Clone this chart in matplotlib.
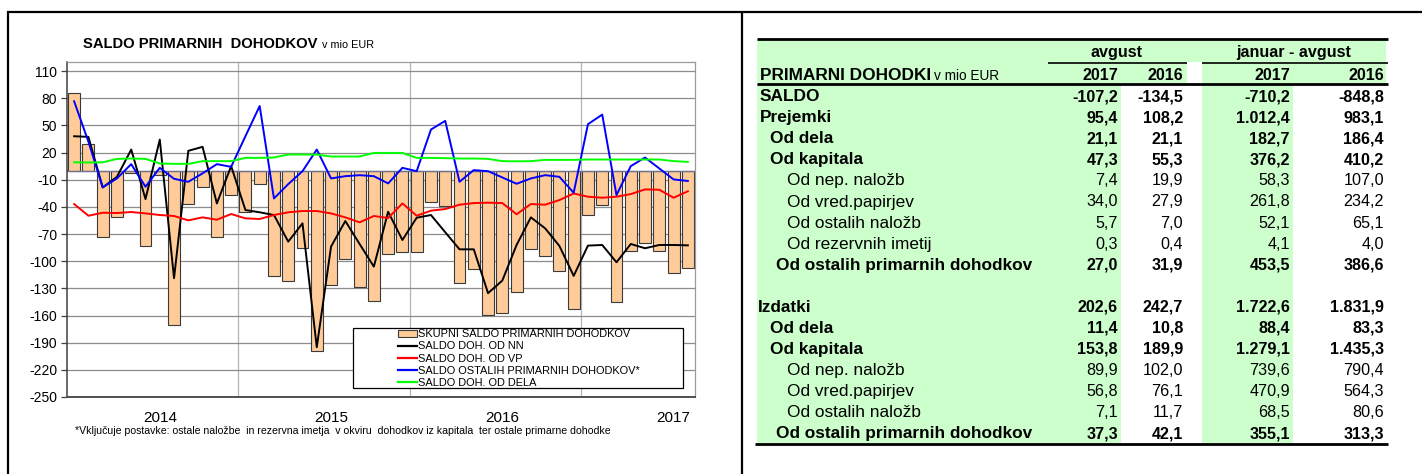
import numpy as np
import matplotlib
matplotlib.use("Agg")
import matplotlib.pyplot as plt
from matplotlib.lines import Line2D
from matplotlib.patches import Rectangle, Patch

plt.rcParams['font.family'] = ['Liberation Sans', 'DejaVu Sans']

# ---------------- data ----------------
months = list(range(44))  # Jan 2014 .. Aug 2017
total = [85.7, 29.2, -73.3, -51.2, -3.0, -82.8, -5.0, -170.0, -37.3, -18.5, -73.3, -27.0,
         -45.4, -14.5, -116.2, -122.4, -85.0, -198.8, -126.5, -97.9, -129.0, -143.8, -91.6, -90.2,
         -89.4, -35.0, -39.5, -123.7, -108.9, -159.6, -157.4, -134.5, -86.9, -94.6, -110.4, -153.0,
         -48.7, -38.4, -145.3, -89.1, -79.5, -88.3, -113.0, -107.2]
saldo_nn = [38.0, 37.3, -18.5, -6.8, 23.3, -31.4, 34.3, -118.8, 21.9, 26.3, -36.2, 5.0,
            -43.5, -46.0, -49.0, -78.4, -58.2, -195.0, -83.9, -55.6, -81.0, -106.0, -45.4, -76.6,
            -52.0, -49.0, -68.0, -86.9, -86.9, -135.3, -121.4, -82.1, -51.6, -63.7, -83.2, -116.2,
            -82.8, -82.1, -101.2, -81.0, -85.7, -82.1, -82.1, -82.5]
saldo_vp = [-36.9, -49.8, -46.5, -46.8, -45.7, -47.2, -49.0, -50.1, -54.9, -51.6, -54.2, -47.9,
            -52.7, -53.4, -49.0, -46.0, -44.6, -44.6, -47.2, -51.6, -57.1, -50.1, -52.3, -36.2,
            -49.8, -44.2, -42.4, -37.6, -35.8, -35.4, -35.8, -48.2, -36.9, -37.6, -32.5, -25.2,
            -28.8, -29.9, -28.8, -25.9, -20.7, -21.1, -29.9, -22.8]
saldo_ostali = [76.6, 32.0, -18.5, -8.6, 7.2, -17.8, 3.1, -9.0, -12.3, -3.0, 7.2, 4.2,
                38.0, 71.4, -30.7, -14.9, -0.6, 23.3, -8.6, -6.1, -5.0, -6.1, -14.1, 3.1,
                -0.6, 45.4, 55.0, -12.3, 0.6, -0.6, -7.5, -14.5, -8.6, -5.0, -6.8, -24.4,
                51.3, 61.9, -27.0, 5.0, 14.5, 2.4, -9.7, -11.4]
saldo_dela = [9.2, 9.0, 9.2, 13.0, 13.4, 13.0, 7.9, 7.5, 7.5, 10.5, 10.5, 10.5,
              14.1, 14.1, 14.5, 17.8, 17.8, 17.8, 15.6, 15.6, 15.6, 19.6, 19.6, 19.6,
              14.1, 14.1, 13.8, 13.4, 13.4, 13.0, 10.5, 10.3, 10.5, 11.9, 11.9, 11.9,
              12.3, 12.3, 12.3, 12.3, 12.3, 12.3, 10.5, 9.7]
year_labels = ['2014', '2015', '2016', '2017']
year_label_pos = [6, 18, 30, 42]
year_bounds = [11.5, 23.5, 35.5]
series_names = ['SKUPNI SALDO PRIMARNIH DOHODKOV', 'SALDO DOH. OD NN', 'SALDO DOH. OD VP',
                'SALDO OSTALIH PRIMARNIH DOHODKOV*', 'SALDO DOH. OD DELA']

row_labels = ['SALDO', 'Prejemki', 'Od dela', 'Od kapitala', 'Od nep. naložb', 'Od vred.papirjev',
              'Od ostalih naložb', 'Od rezervnih imetij', 'Od ostalih primarnih dohodkov', '',
              'Izdatki', 'Od dela', 'Od kapitala', 'Od nep. naložb', 'Od vred.papirjev',
              'Od ostalih naložb', 'Od ostalih primarnih dohodkov']
aug_2017 = ['-107,2', '95,4', '21,1', '47,3', '7,4', '34,0', '5,7', '0,3', '27,0', '',
            '202,6', '11,4', '153,8', '89,9', '56,8', '7,1', '37,3']
aug_2016 = ['-134,5', '108,2', '21,1', '55,3', '19,9', '27,9', '7,0', '0,4', '31,9', '',
            '242,7', '10,8', '189,9', '102,0', '76,1', '11,7', '42,1']
jan_aug_2017 = ['-710,2', '1.012,4', '182,7', '376,2', '58,3', '261,8', '52,1', '4,1', '453,5', '',
                '1.722,6', '88,4', '1.279,1', '739,6', '470,9', '68,5', '355,1']
jan_aug_2016 = ['-848,8', '983,1', '186,4', '410,2', '107,0', '234,2', '65,1', '4,0', '386,6', '',
                '1.831,9', '83,3', '1.435,3', '790,4', '564,3', '80,6', '313,3']
col_years = ['2017', '2016', '2017', '2016']

# ---------------- layout helpers ----------------
W, H = 1422, 474
fig = plt.figure(figsize=(W / 100, H / 100), dpi=100)
renderer = fig.canvas.get_renderer()


def fx(x):
    return x / W


def fy(y):
    return 1 - y / H


def hline(x0, x1, y, lw, color='black'):
    fig.add_artist(Line2D([fx(x0), fx(x1)], [fy(y), fy(y)], transform=fig.transFigure,
                          color=color, lw=lw, solid_capstyle='butt'))


def vline(x, y0, y1, lw, color='black'):
    fig.add_artist(Line2D([fx(x), fx(x)], [fy(y0), fy(y1)], transform=fig.transFigure,
                          color=color, lw=lw, solid_capstyle='butt'))


def rect(x0, y0, x1, y1, color, z=0.1):
    fig.add_artist(Rectangle((fx(x0), fy(y1)), fx(x1) - fx(x0), fy(y0) - fy(y1),
                             transform=fig.transFigure, facecolor=color, edgecolor='none',
                             zorder=z))


# outer frame lines
hline(7, W, 11.5, 1.6)
vline(8, 10.5, H, 1.6)
vline(742, 10.5, H, 1.6)

# ---------------- chart ----------------
ax = fig.add_axes([fx(67), fy(397), fx(695) - fx(67), fy(62) - fy(397)])
x = np.array(months)
ax.bar(x, total, width=0.83, color='#FFCC99', edgecolor='#3a3a3a', linewidth=0.8, zorder=2)
ax.axhline(0, color='#707090', lw=1.0, zorder=2.5)
ax.plot(x, saldo_nn, color='black', lw=1.4, zorder=4)
ax.plot(x, saldo_vp, color='#FF0000', lw=1.4, zorder=4)
ax.plot(x, saldo_ostali, color='#0000FF', lw=1.4, zorder=4)
ax.plot(x, saldo_dela, color='#00FF00', lw=1.4, zorder=4)

ax.set_xlim(-0.5, 43.5)
ax.set_ylim(-250, 120)
ax.set_yticks(np.arange(-250, 111, 30))
ax.set_yticklabels([str(v) for v in np.arange(-250, 111, 30)], fontsize=10)
ax.yaxis.grid(True, color='#8c8c8c', lw=0.9, zorder=0)
for b in year_bounds:
    ax.axvline(b, color='#b4b4b4', lw=0.9, zorder=0)
ax.set_axisbelow(True)
ax.set_xticks(year_label_pos)
ax.set_xticklabels(year_labels, fontsize=11)
ax.tick_params(axis='x', length=0, pad=10)
ax.tick_params(axis='y', length=4, width=0.9, direction='out', pad=3, color='#404040')
for s in ['top', 'right']:
    ax.spines[s].set_color('#9a9a9a')
    ax.spines[s].set_linewidth(0.9)
ax.spines['left'].set_color('#404040')
ax.spines['left'].set_linewidth(1.1)
ax.spines['bottom'].set_color('#505050')
ax.spines['bottom'].set_linewidth(1.4)

# title
ttl = fig.text(fx(83), fy(44), 'SALDO PRIMARNIH  DOHODKOV', fontsize=10.6, fontweight='bold',
               va='center', ha='left')
tb = ttl.get_window_extent(renderer=renderer)
fig.text(tb.x1 / W + fx(5), fy(45), 'v mio EUR', fontsize=7.8, va='center', ha='left')

# legend (frame drawn separately to match its wide box)
fig.add_artist(Rectangle((fx(353), fy(388)), fx(683) - fx(353), fy(328) - fy(388),
                         transform=fig.transFigure, facecolor='white', edgecolor='black',
                         lw=0.9, zorder=3))
handles = [Patch(facecolor='#FFCC99', edgecolor='#3a3a3a', lw=0.8),
           Line2D([], [], color='black', lw=1.6),
           Line2D([], [], color='#FF0000', lw=1.6),
           Line2D([], [], color='#0000FF', lw=1.6),
           Line2D([], [], color='#00FF00', lw=1.6)]
leg = fig.legend(handles, series_names, loc='upper left',
                 bbox_to_anchor=(fx(396), fy(327)), frameon=False, fontsize=7.9,
                 handlelength=1.7, handleheight=0.6, handletextpad=0.1, labelspacing=0.2,
                 borderpad=0.2, borderaxespad=0)
leg.set_zorder(5)

# footnote
fig.text(fx(75), fy(431), '*Vključuje postavke: ostale naložbe  in rezervna imetja  v okviru  '
         'dohodkov iz kapitala  ter ostale primarne dohodke', fontsize=7.55, va='center', ha='left')

# ---------------- table ----------------
GREEN = '#CCFFCC'
TL, TR = 757, 1388
rect(TL, 39, 1386, 62, GREEN)
rect(TL, 62, 1187, 83, GREEN)
rect(1202, 62, 1386, 83, GREEN)
rect(TL, 83, 1121, 443, GREEN)
rect(1202, 83, 1293, 443, GREEN)

hline(TL, TR, 38.5, 2.0)
hline(1048, 1187, 62.5, 1.2)
hline(1202, TR, 62.5, 1.2)
hline(TL, TR, 83.5, 2.0)
hline(755, TR, 444, 2.0)

FS = 11.6      # numbers
FSL = 12.4     # row labels
col_right = [1118, 1183, 1290, 1384]

fig.text(fx(1117), fy(53), 'avgust', fontsize=FS, fontweight='bold', ha='center', va='center')
fig.text(fx(1294), fy(53), 'januar - avgust', fontsize=FS, fontweight='bold', ha='center',
         va='center')
hdr = fig.text(fx(760), fy(75), 'PRIMARNI DOHODKI', fontsize=FSL, fontweight='bold',
               ha='left', va='center')
hb = hdr.get_window_extent(renderer=renderer)
fig.text(hb.x1 / W + fx(3), fy(75.5), 'v mio EUR', fontsize=9.8, ha='left', va='center')
for cx, lab in zip(col_right, col_years):
    fig.text(fx(cx), fy(75), lab, fontsize=FS, fontweight='bold', ha='right', va='center')

# indentation / weight per row (layout only)
row_indent = [760, 760, 770, 770, 787, 787, 787, 787, 776, 760,
              758, 770, 770, 787, 787, 787, 776]
row_bold = [True, True, True, True, False, False, False, False, True, False,
            True, True, True, False, False, False, True]
cols = [aug_2017, aug_2016, jan_aug_2017, jan_aug_2016]
for i, lab in enumerate(row_labels):
    yy = 96.7 + 21.06 * i
    w = 'bold' if row_bold[i] else 'normal'
    if lab:
        fig.text(fx(row_indent[i]), fy(yy), lab, fontsize=FSL, fontweight=w, ha='left',
                 va='center')
    for cx, col in zip(col_right, cols):
        if col[i]:
            fig.text(fx(cx), fy(yy), col[i], fontsize=FS, fontweight=w, ha='right',
                     va='center')

fig.savefig('out.png', dpi=100)
